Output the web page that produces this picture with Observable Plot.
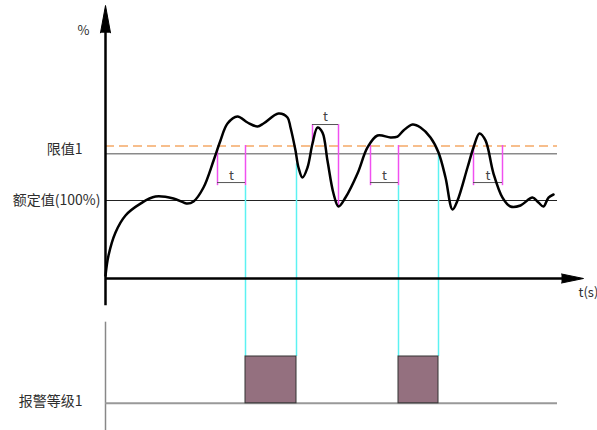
<!DOCTYPE html>
<html>
<head>
<meta charset="utf-8">
<script src="https://cdn.jsdelivr.net/npm/d3@7"></script>
<script src="https://cdn.jsdelivr.net/npm/@observablehq/plot@0.6"></script>
<style>
  html, body { margin: 0; padding: 0; background: #fff; }
  #chart svg { display: block; }
</style>
</head>
<body>
<div id="chart"></div>
<script>
// ---- data (time units, percent units) ----
const curveT = [0, 0.75, 2.5, 5, 8.75, 12.5, 17, 20.5, 22, 24.5, 27, 28.75, 30.5, 33, 35.5, 38, 39.5, 43.25, 45.5, 46.25, 47.5, 48.25, 49.25, 50.5, 51.75, 53, 54.25, 55.5, 57, 58.25, 60, 63, 65.5, 68, 71.25, 73, 74.5, 76.75, 78.75, 81.25, 83.25, 85, 86.75, 88, 90.5, 92, 93.5, 95, 97, 99.25, 101.25, 103.75, 106.75, 108.25, 109.5, 110.75, 112];
const curveV = [3.8, 29.5, 59, 80.8, 96, 105, 102.6, 96, 98.7, 116.7, 151, 177, 198.7, 207.7, 200, 195, 198.7, 211.5, 206.4, 193.6, 164, 142.3, 129.5, 142.3, 173, 193.6, 187, 151, 109, 92.3, 103.8, 134.6, 168, 183.3, 180.8, 182, 189.7, 197.4, 193.6, 180.8, 161.5, 129.5, 88.5, 100, 142.3, 168, 186, 177, 134.6, 103.8, 92.3, 93.6, 103.8, 97.4, 92.3, 103.8, 107.7];

const ratedValue = 100;
const limitValue = 160;
const warnValue = 170;
const axisEndT = 113;

// delay brackets "t"
const bracketStart = [28, 51.75, 66.25, 92];
const bracketEnd = [35, 58.25, 73.25, 99.25];
const bracketLevel = [123, 197.4, 123, 123];
const bracketLeftTop = [164, 170.5, 170.5, 170.5];
const bracketLeftBottom = [119, 197.4, 119, 119];
const bracketRightTop = [170.5, 197.4, 170.5, 170.5];
const bracketRightBottom = [119, 91, 119, 119];
const bracketLabelV = [132, 207, 132, 132];

// alarm level 1 pulses
const alarmStart = [35, 73.25];
const alarmEnd = [47.75, 83.25];
const alarmLow = -160;
const alarmHigh = -100;
const cyanT = [35, 47.75, 73.25, 83.25];
const cyanTop = [119, 147, 119, 160];

// labels
const labelLimit = "限值1";
const labelRated = "额定值(100%)";
const labelAlarm = "报警等级1";
const labelYUnit = "%";
const labelXUnit = "t(s)";
const labelDelay = "t";

// ---- derived tables ----
const curve = curveT.map((t, i) => ({t, v: curveV[i]}));
const brackets = bracketStart.map((s, i) => ({
  s, e: bracketEnd[i], lvl: bracketLevel[i],
  lt: bracketLeftTop[i], lb: bracketLeftBottom[i],
  rt: bracketRightTop[i], rb: bracketRightBottom[i],
  lv: bracketLabelV[i], mid: (s + bracketEnd[i]) / 2
}));
const alarms = alarmStart.map((s, i) => ({s, e: alarmEnd[i]}));
const cyan = cyanT.map((t, i) => ({t, top: cyanTop[i]}));

const yArrow = [{t: -1.25, v: 315}, {t: 0, v: 350}, {t: 1.25, v: 315}];
const xArrow = [{t: 114, v: 5.8}, {t: 119.5, v: 0}, {t: 114, v: -5.8}];

const font = "'Noto Sans CJK SC', 'Noto Sans', sans-serif";
const txt = "#2e2e2e";

const plot = Plot.plot({
  width: 597,
  height: 430,
  marginTop: 0, marginRight: 0, marginBottom: 0, marginLeft: 0,
  x: {type: "linear", domain: [0, 100], range: [105, 505], axis: null},
  y: {type: "linear", domain: [0, 100], range: [278, 200], axis: null},
  style: {background: "#fff", overflow: "visible"},
  marks: [
    // reference lines
    Plot.ruleY([warnValue], {x1: 0, x2: axisEndT, stroke: "#F7BE8C", strokeWidth: 2, strokeDasharray: "9,5"}),
    Plot.ruleY([limitValue], {x1: 0, x2: axisEndT, stroke: "#8a8a8a", strokeWidth: 1.5}),
    Plot.ruleY([ratedValue], {x1: 0, x2: axisEndT, stroke: "#222", strokeWidth: 1}),
    // cyan projections
    Plot.ruleX(cyan, {x: "t", y1: "top", y2: alarmHigh, stroke: "#5CF2F2", strokeWidth: 1.5}),
    // magenta delay markers
    Plot.ruleX(brackets, {x: "s", y1: "lt", y2: "lb", stroke: "#F050F0", strokeWidth: 1.5}),
    Plot.ruleX(brackets, {x: "e", y1: "rt", y2: "rb", stroke: "#F050F0", strokeWidth: 1.5}),
    Plot.ruleY(brackets, {y: "lvl", x1: "s", x2: "e", stroke: "#555", strokeWidth: 1}),
    Plot.text(brackets, {x: "mid", y: "lv", text: () => labelDelay, fill: "#444", fontSize: 13, fontFamily: font}),
    // axes
    Plot.ruleX([0], {y1: -35, y2: 318, stroke: "#000", strokeWidth: 2.5}),
    Plot.ruleY([0], {x1: 0, x2: 115, stroke: "#000", strokeWidth: 2.5}),
    Plot.line(yArrow, {x: "t", y: "v", fill: "#000", stroke: "#000", strokeWidth: 1}),
    Plot.line(xArrow, {x: "t", y: "v", fill: "#000", stroke: "#000", strokeWidth: 1}),
    // curve
    Plot.line(curve, {x: "t", y: "v", curve: "catmull-rom", stroke: "#000", strokeWidth: 2.5}),
    // lower panel
    Plot.ruleX([0], {y1: -56, y2: -195, stroke: "#888", strokeWidth: 1.5}),
    Plot.ruleY([alarmLow], {x1: 0, x2: axisEndT, stroke: "#999", strokeWidth: 2}),
    Plot.rect(alarms, {x1: "s", x2: "e", y1: alarmLow, y2: alarmHigh, fill: "#94707F", stroke: "#333", strokeWidth: 1}),
    // labels
    Plot.text([labelLimit], {x: 0, y: limitValue, text: d => d, dx: -23, dy: -4, textAnchor: "end", fill: txt, fontSize: 14, fontFamily: font}),
    Plot.text([labelRated], {x: 0, y: ratedValue, text: d => d, dx: -5, textAnchor: "end", fill: txt, fontSize: 14, fontFamily: font}),
    Plot.text([labelAlarm], {x: 0, y: alarmLow, text: d => d, dx: -23, dy: -2, textAnchor: "end", fill: txt, fontSize: 14, fontFamily: font}),
    Plot.text([labelYUnit], {x: 0, y: 318, text: d => d, dx: -22, fill: txt, fontSize: 13, fontFamily: font}),
    Plot.text([labelXUnit], {x: 118.25, y: -19, text: d => d, textAnchor: "start", fill: txt, fontSize: 13, fontFamily: font})
  ]
});
document.getElementById("chart").appendChild(plot);
</script>
</body>
</html>
